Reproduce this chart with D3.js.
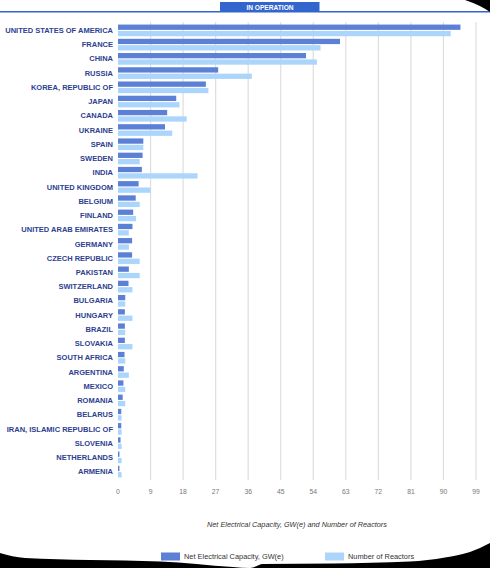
<!DOCTYPE html>
<html>
<head>
<meta charset="utf-8">
<script src="https://d3js.org/d3.v7.min.js"></script>
<style>
  body { margin: 0; background: #fff; }
  text { font-family: "Liberation Sans", Arial, sans-serif; }
</style>
</head>
<body>
<script>
// data
const countries = ["UNITED STATES OF AMERICA", "FRANCE", "CHINA", "RUSSIA", "KOREA, REPUBLIC OF",
  "JAPAN", "CANADA", "UKRAINE", "SPAIN", "SWEDEN", "INDIA", "UNITED KINGDOM", "BELGIUM",
  "FINLAND", "UNITED ARAB EMIRATES", "GERMANY", "CZECH REPUBLIC", "PAKISTAN", "SWITZERLAND",
  "BULGARIA", "HUNGARY", "BRAZIL", "SLOVAKIA", "SOUTH AFRICA", "ARGENTINA", "MEXICO",
  "ROMANIA", "BELARUS", "IRAN, ISLAMIC REPUBLIC OF", "SLOVENIA", "NETHERLANDS", "ARMENIA"];
const capacity = [94.7, 61.4, 52.0, 27.7, 24.3, 16.1, 13.6, 13.0, 7.0, 6.8, 6.6, 5.7, 4.9,
  4.2, 4.0, 3.9, 3.9, 3.0, 2.9, 2.0, 1.9, 1.9, 1.9, 1.8, 1.6, 1.5, 1.3, 0.9, 0.9, 0.7, 0.4, 0.4];
const reactors = [92, 56, 55, 37, 25, 17, 19, 15, 7, 6, 22, 9, 6,
  5, 3, 3, 6, 6, 4, 2, 4, 2, 4, 2, 3, 2, 2, 1, 1, 1, 1, 1];
const ticks = [0, 9, 18, 27, 36, 45, 54, 63, 72, 81, 90, 99];
const seriesNames = ["Net Electrical Capacity, GW(e)", "Number of Reactors"];
const colors = ["#5b80d5", "#acd5fc"];

const width = 490, height = 568;
const svg = d3.select("body").append("svg")
  .attr("width", width)
  .attr("height", height);

const x = d3.scaleLinear().domain([0, 99]).range([118, 476]);
const y = d3.scaleBand().domain(countries).range([22, 480]).padding(0.18);
const ySub = d3.scaleBand().domain([0, 1]).range([0, y.bandwidth()]).paddingInner(0.17);

// header tab and rule
svg.append("line")
  .attr("x1", 0).attr("x2", width)
  .attr("y1", 11.7).attr("y2", 11.7)
  .attr("stroke", "#3366cc").attr("stroke-width", 1.4);
svg.append("rect")
  .attr("x", 220).attr("y", 2).attr("width", 99.5).attr("height", 10)
  .attr("fill", "#3366cc");
svg.append("text")
  .attr("x", 270).attr("y", 9.6)
  .attr("text-anchor", "middle")
  .attr("font-size", "6.6px").attr("font-weight", "bold")
  .attr("fill", "#fff")
  .text("IN OPERATION");

// gridlines
svg.append("g").selectAll("line")
  .data(ticks.slice(1))
  .join("line")
    .attr("x1", d => x(d)).attr("x2", d => x(d))
    .attr("y1", 22).attr("y2", 480)
    .attr("stroke", "#dedede").attr("stroke-width", 1.2);

// bars
const rows = countries.map((c, i) => ({ name: c, vals: [capacity[i], reactors[i]] }));
const groups = svg.append("g").selectAll("g")
  .data(rows)
  .join("g")
    .attr("transform", d => `translate(0,${y(d.name)})`);

groups.selectAll("rect")
  .data(d => d.vals)
  .join("rect")
    .attr("x", x(0))
    .attr("y", (d, i) => ySub(i))
    .attr("width", d => x(d) - x(0))
    .attr("height", ySub.bandwidth())
    .attr("fill", (d, i) => colors[i]);

// country labels
svg.append("g").selectAll("text")
  .data(countries)
  .join("text")
    .attr("x", 113)
    .attr("y", d => y(d) + y.bandwidth() / 2)
    .attr("dy", "0.35em")
    .attr("text-anchor", "end")
    .attr("font-size", "7.5px").attr("font-weight", "bold")
    .attr("fill", "#2d4190")
    .text(d => d);

// tick labels
svg.append("g").selectAll("text")
  .data(ticks)
  .join("text")
    .attr("x", d => x(d))
    .attr("y", 493.5)
    .attr("text-anchor", "middle")
    .attr("font-size", "6.8px")
    .attr("fill", "#777")
    .text(d => d);

// axis title
svg.append("text")
  .attr("x", (x(0) + x(99)) / 2)
  .attr("y", 526.5)
  .attr("text-anchor", "middle")
  .attr("font-size", "7.3px").attr("font-style", "italic")
  .attr("fill", "#333")
  .text("Net Electrical Capacity, GW(e) and Number of Reactors");

// legend
const legendX = [161, 325];
const legend = svg.append("g").selectAll("g")
  .data(seriesNames)
  .join("g")
    .attr("transform", (d, i) => `translate(${legendX[i]},552.5)`);
legend.append("rect")
  .attr("width", 19).attr("height", 8)
  .attr("fill", (d, i) => colors[i]);
legend.append("text")
  .attr("x", 23).attr("y", 6.8)
  .attr("font-size", "7.4px")
  .attr("fill", "#333")
  .text(d => d);

// page curl / torn edge decorations
svg.append("path")
  .attr("d", "M465,0 Q480,5 490,12 L490,0 Z")
  .attr("fill", "#000");
const edge = [[0, 553], [25, 558], [90, 560], [160, 561.5], [233, 567], [250, 568], [263, 564],
  [333, 563.5], [410, 561.5], [445, 557.5], [470, 552], [490, 543]];
const edgeLine = d3.line().curve(d3.curveMonotoneX);
svg.append("path")
  .attr("d", edgeLine(edge) + "L490,568L0,568Z")
  .attr("fill", "#000");
</script>
</body>
</html>
